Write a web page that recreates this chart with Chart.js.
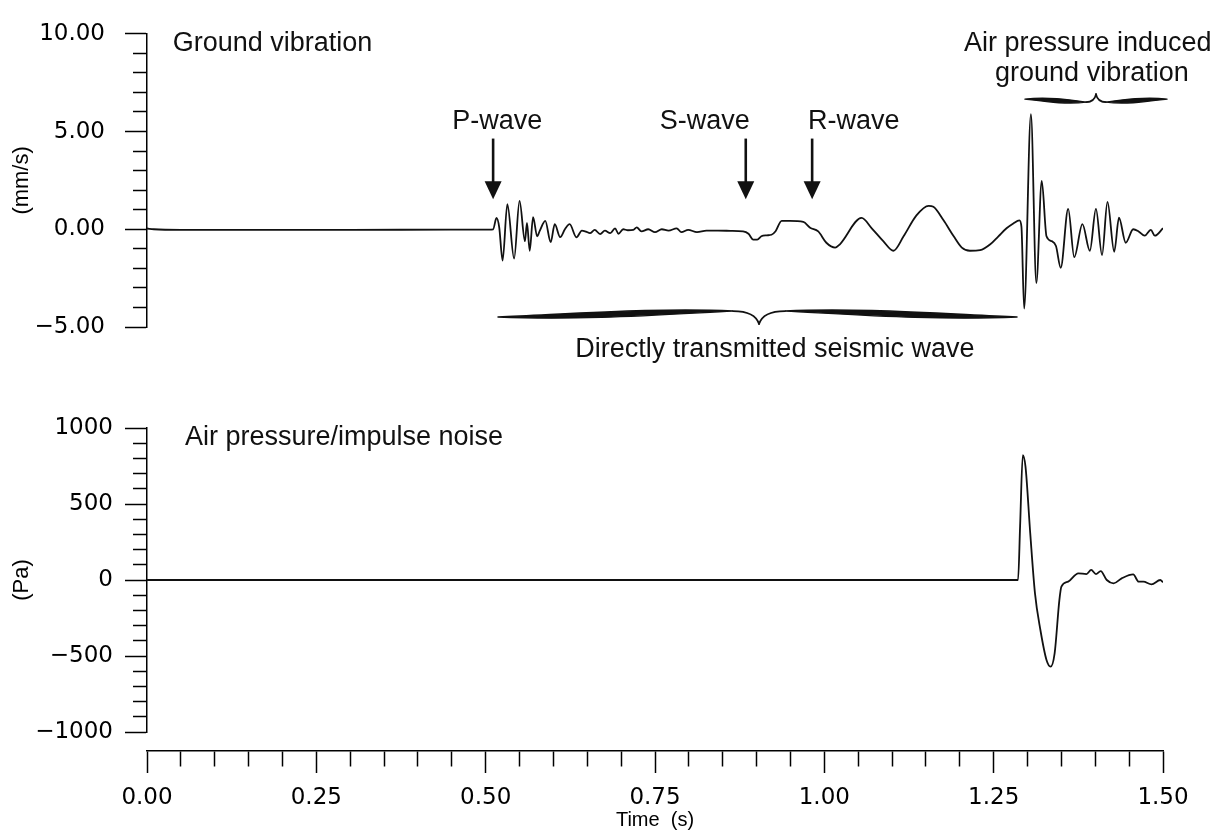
<!DOCTYPE html>
<html lang="en">
<head>
<meta charset="UTF-8">
<title>Ground vibration and air pressure</title>
<style>
    body { margin: 0; background: #fff; }
    #wrap { position: relative; width: 1222px; height: 834px; }
    #wrap canvas { position: absolute; left: 0; }
    #c-top { top: 0; }
    #c-bottom { top: 400px; }
    #c-axis { top: 720px; }
</style>
</head>
<body>
<div id="wrap">
    <canvas id="c-top" width="1222" height="400"></canvas>
    <canvas id="c-bottom" width="1222" height="360"></canvas>
    <canvas id="c-axis" width="1222" height="114"></canvas>
</div>

<script src="https://cdn.jsdelivr.net/npm/chart.js"></script>
<script>
// ground vibration trace (time s, velocity mm/s)
const gvTime = [0.000, 0.010, 0.050, 0.150, 0.300, 0.450, 0.505, 0.511, 0.516, 0.520,
    0.525, 0.532, 0.542, 0.550, 0.558, 0.561, 0.565, 0.570, 0.576, 0.580,
    0.588, 0.596, 0.602, 0.610, 0.617, 0.624, 0.634, 0.642, 0.648, 0.654,
    0.661, 0.669, 0.676, 0.684, 0.691, 0.696, 0.703, 0.710, 0.718, 0.723,
    0.730, 0.740, 0.750, 0.760, 0.770, 0.782, 0.789, 0.799, 0.812, 0.826,
    0.843, 0.861, 0.880, 0.888, 0.895, 0.901, 0.907, 0.915, 0.922, 0.928,
    0.937, 0.949, 0.969, 0.979, 0.991, 1.003, 1.016, 1.023, 1.055, 1.070,
    1.087, 1.102, 1.117, 1.136, 1.154, 1.161, 1.176, 1.191, 1.203, 1.215,
    1.230, 1.245, 1.257, 1.269, 1.279, 1.288, 1.291, 1.295, 1.305, 1.313,
    1.321, 1.328, 1.336, 1.342, 1.349, 1.360, 1.369, 1.381, 1.392, 1.401,
    1.410, 1.418, 1.428, 1.435, 1.445, 1.456, 1.464, 1.473, 1.482, 1.488, 1.500];
const gvVel = [0.04, 0.00, -0.03, -0.03, -0.03, -0.02, -0.02, 0.00, 0.58, 0.10,
    -1.60, 1.28, -1.50, 1.45, -0.61, 0.33, -1.10, 0.62, -0.36, -0.07,
    0.43, -0.66, 0.26, -0.40, 0.00, 0.26, -0.41, -0.07, -0.12, -0.20,
    -0.03, -0.25, -0.07, -0.20, 0.05, -0.23, 0.00, -0.05, -0.03, 0.10,
    -0.11, 0.00, -0.15, 0.00, -0.07, 0.05, -0.15, -0.03, -0.15, -0.07,
    -0.07, -0.08, -0.11, -0.23, -0.53, -0.53, -0.36, -0.31, -0.28, -0.10,
    0.43, 0.43, 0.38, 0.08, -0.11, -0.69, -0.94, -0.77, 0.58, 0.05,
    -0.61, -1.10, -0.36, 0.71, 1.20, 1.15, 0.46, -0.36, -0.94, -1.10,
    -1.07, -0.77, -0.36, 0.05, 0.30, 0.46, 0.13, -4.06, 5.89, -2.75,
    2.47, -0.36, -0.61, -0.86, -1.97, 1.04, -1.43, 0.26, -1.10, 1.04,
    -1.32, 1.40, -1.15, 0.59, -0.69, 0.00, -0.11, -0.33, -0.03, -0.33, 0.05];

// air pressure trace (time s, pressure Pa)
const apTime = [0.000, 0.500, 1.000, 1.286, 1.289, 1.293, 1.297, 1.304, 1.311, 1.319,
    1.328, 1.334, 1.340, 1.347, 1.350, 1.360, 1.375, 1.387, 1.394, 1.401,
    1.408, 1.417, 1.427, 1.439, 1.456, 1.464, 1.471, 1.483, 1.496, 1.500];
const apPress = [0, 0, 0, 0, 351, 822, 746, 307, -88, -329,
    -526, -570, -482, -132, -44, -11, 44, 39, 66, 39,
    59, 0, -22, 11, 37, -11, -11, -29, 0, -15];

// annotations on the upper panel
const waveNames = ['P-wave', 'S-wave', 'R-wave'];
const waveArrival = [0.511, 0.884, 0.982];
const waveLabelAlign = ['center', 'right', 'left'];
const waveLabelTime = [0.517, 0.890, 0.976];

const FONT_TXT = '"Liberation Sans", Arial, sans-serif';
const FONT_NUM = '"DejaVu Sans", Verdana, sans-serif';

function isMajor(v, major) {
    const r = v / major;
    return Math.abs(r - Math.round(r)) < 1e-6;
}

function fmt(v, dec) {
    return v.toFixed(dec).replace('-', '\u2212');
}

function toPoints(xs, ys) {
    return xs.map((t, i) => ({ x: t, y: ys[i] }));
}

function yAxis(min, max, step, major, dec, title, pad) {
    return {
        type: 'linear',
        min: min,
        max: max,
        afterFit: s => { s.width = 147; },
        border: { display: true, color: '#000', width: 1.5 },
        grid: {
            drawOnChartArea: false,
            drawTicks: true,
            tickLength: 22,
            tickColor: '#000',
            tickWidth: 1.5,
            tickBorderDash: c => isMajor(c.tick.value, major) ? [] : [0, 8, 14, 100]
        },
        ticks: {
            stepSize: step,
            autoSkip: false,
            padding: pad,
            color: '#000',
            font: { family: FONT_NUM, size: 23 },
            callback: v => isMajor(v, major) ? fmt(v, dec) : ''
        },
        title: {
            display: true,
            text: title,
            color: '#000',
            font: { family: FONT_TXT, size: 22 },
            padding: { top: 9, bottom: 0 }
        }
    };
}

const hiddenX = { type: 'linear', min: 0, max: 1.5, display: false };

function lineSet(xs, ys) {
    return {
        data: toPoints(xs, ys),
        borderColor: '#111',
        borderWidth: 1.8,
        pointRadius: 0,
        cubicInterpolationMode: 'monotone',
        fill: false
    };
}

function text(ctx, str, px, py, align) {
    ctx.font = '27px ' + FONT_TXT;
    ctx.fillStyle = '#111';
    ctx.textAlign = align;
    ctx.textBaseline = 'alphabetic';
    ctx.fillText(str, px, py);
}

// curly brace between two times, tip pointing down (dir 1) or up (dir -1)
function brace(ctx, x, y, b) {
    const xc = x.getPixelForValue(b.tip);
    const y0 = y.getPixelForValue(b.at);
    const d = b.dir;
    ctx.save();
    ctx.fillStyle = '#111';
    ctx.strokeStyle = '#111';
    ctx.lineCap = 'round';
    [b.from, b.to].forEach(t => {
        const xe = x.getPixelForValue(t);
        const s = Math.sign(xc - xe);
        const bx = xc - s * b.knee;
        const by = y0 - d * b.rise;
        const c1 = xe + 0.35 * (bx - xe);
        const c2 = xe + 0.7 * (bx - xe);
        const h = b.thick;
        ctx.beginPath();
        ctx.moveTo(xe, y0);
        ctx.bezierCurveTo(c1, y0 - h, c2, by - h, bx, by);
        ctx.bezierCurveTo(c2, by + h, c1, y0 + h, xe, y0);
        ctx.fill();
        ctx.lineWidth = 1.4;
        ctx.stroke();
        ctx.beginPath();
        ctx.moveTo(bx, by);
        ctx.quadraticCurveTo(xc - s * b.knee * 0.15, by, xc, y0 + d * b.depth);
        ctx.lineWidth = 1.7;
        ctx.stroke();
    });
    ctx.restore();
}

const topNotes = {
    id: 'topNotes',
    afterDatasetsDraw(chart) {
        const { ctx, scales: { x, y } } = chart;
        ctx.save();
        text(ctx, 'Ground vibration', x.getPixelForValue(0.038), y.getPixelForValue(9.10), 'left');

        waveArrival.forEach((t, i) => {
            const px = x.getPixelForValue(t);
            const top = y.getPixelForValue(4.64);
            const tip = y.getPixelForValue(1.53);
            ctx.strokeStyle = '#111';
            ctx.lineWidth = 2.6;
            ctx.beginPath();
            ctx.moveTo(px, top);
            ctx.lineTo(px, tip - 15);
            ctx.stroke();
            ctx.fillStyle = '#111';
            ctx.beginPath();
            ctx.moveTo(px - 8.5, tip - 18);
            ctx.lineTo(px + 8.5, tip - 18);
            ctx.lineTo(px, tip);
            ctx.closePath();
            ctx.fill();
            text(ctx, waveNames[i], x.getPixelForValue(waveLabelTime[i]), y.getPixelForValue(5.13), waveLabelAlign[i]);
        });

        text(ctx, 'Air pressure induced', x.getPixelForValue(1.389), y.getPixelForValue(9.10), 'center');
        text(ctx, 'ground vibration', x.getPixelForValue(1.395), y.getPixelForValue(7.60), 'center');
        brace(ctx, x, y, { from: 1.2962, to: 1.5059, tip: 1.4011, at: 6.66, dir: -1, rise: 3, depth: 5, knee: 10, thick: 2.6 });

        brace(ctx, x, y, { from: 0.5182, to: 1.2845, tip: 0.9036, at: -4.49, dir: 1, rise: 6, depth: 7, knee: 26, thick: 3.6 });
        text(ctx, 'Directly transmitted seismic wave', x.getPixelForValue(0.927), y.getPixelForValue(-6.56), 'center');
        ctx.restore();
    }
};

const bottomNotes = {
    id: 'bottomNotes',
    afterDatasetsDraw(chart) {
        const { ctx, scales: { x, y } } = chart;
        ctx.save();
        text(ctx, 'Air pressure/impulse noise', x.getPixelForValue(0.056), y.getPixelForValue(888), 'left');
        ctx.restore();
    }
};

const common = {
    responsive: false,
    animation: false,
    events: [],
    plugins: { legend: { display: false }, tooltip: { enabled: false } }
};

new Chart(document.getElementById('c-top'), {
    type: 'line',
    data: { datasets: [lineSet(gvTime, gvVel)] },
    options: Object.assign({}, common, {
        layout: { padding: { left: 0, right: 59, top: 23, bottom: 73 } },
        scales: {
            x: hiddenX,
            y: yAxis(-5, 10, 1, 5, 2, '(mm/s)', 20)
        }
    }),
    plugins: [topNotes]
});

new Chart(document.getElementById('c-bottom'), {
    type: 'line',
    data: { datasets: [lineSet(apTime, apPress)] },
    options: Object.assign({}, common, {
        layout: { padding: { left: 0, right: 59, top: 28, bottom: 28 } },
        scales: {
            x: hiddenX,
            y: yAxis(-1000, 1000, 100, 500, 0, '(Pa)', 12)
        }
    }),
    plugins: [bottomNotes]
});

// shared time axis, drawn on its own below the lower panel
new Chart(document.getElementById('c-axis'), {
    type: 'line',
    data: { datasets: [] },
    options: Object.assign({}, common, {
        layout: { padding: { left: 147, right: 59, top: 0, bottom: 0 } },
        scales: {
            x: {
                type: 'linear',
                min: 0,
                max: 1.5,
                afterFit: s => { s.height = 83; },
                border: { display: true, color: '#000', width: 1.5 },
                grid: {
                    drawOnChartArea: false,
                    drawTicks: true,
                    tickLength: 22,
                    tickColor: '#000',
                    tickWidth: 1.5,
                    tickBorderDash: c => isMajor(c.tick.value, 0.25) ? [] : [15, 100]
                },
                ticks: {
                    stepSize: 0.05,
                    autoSkip: false,
                    maxRotation: 0,
                    padding: 11,
                    color: '#000',
                    font: { family: FONT_NUM, size: 23 },
                    callback: v => isMajor(v, 0.25) ? fmt(v, 2) : ''
                },
                title: {
                    display: true,
                    text: 'Time  (s)',
                    color: '#000',
                    font: { family: FONT_TXT, size: 20 },
                    padding: { top: 0, bottom: 2 }
                }
            },
            y: { display: false, min: 0, max: 1 }
        }
    })
});
</script>
</body>
</html>
